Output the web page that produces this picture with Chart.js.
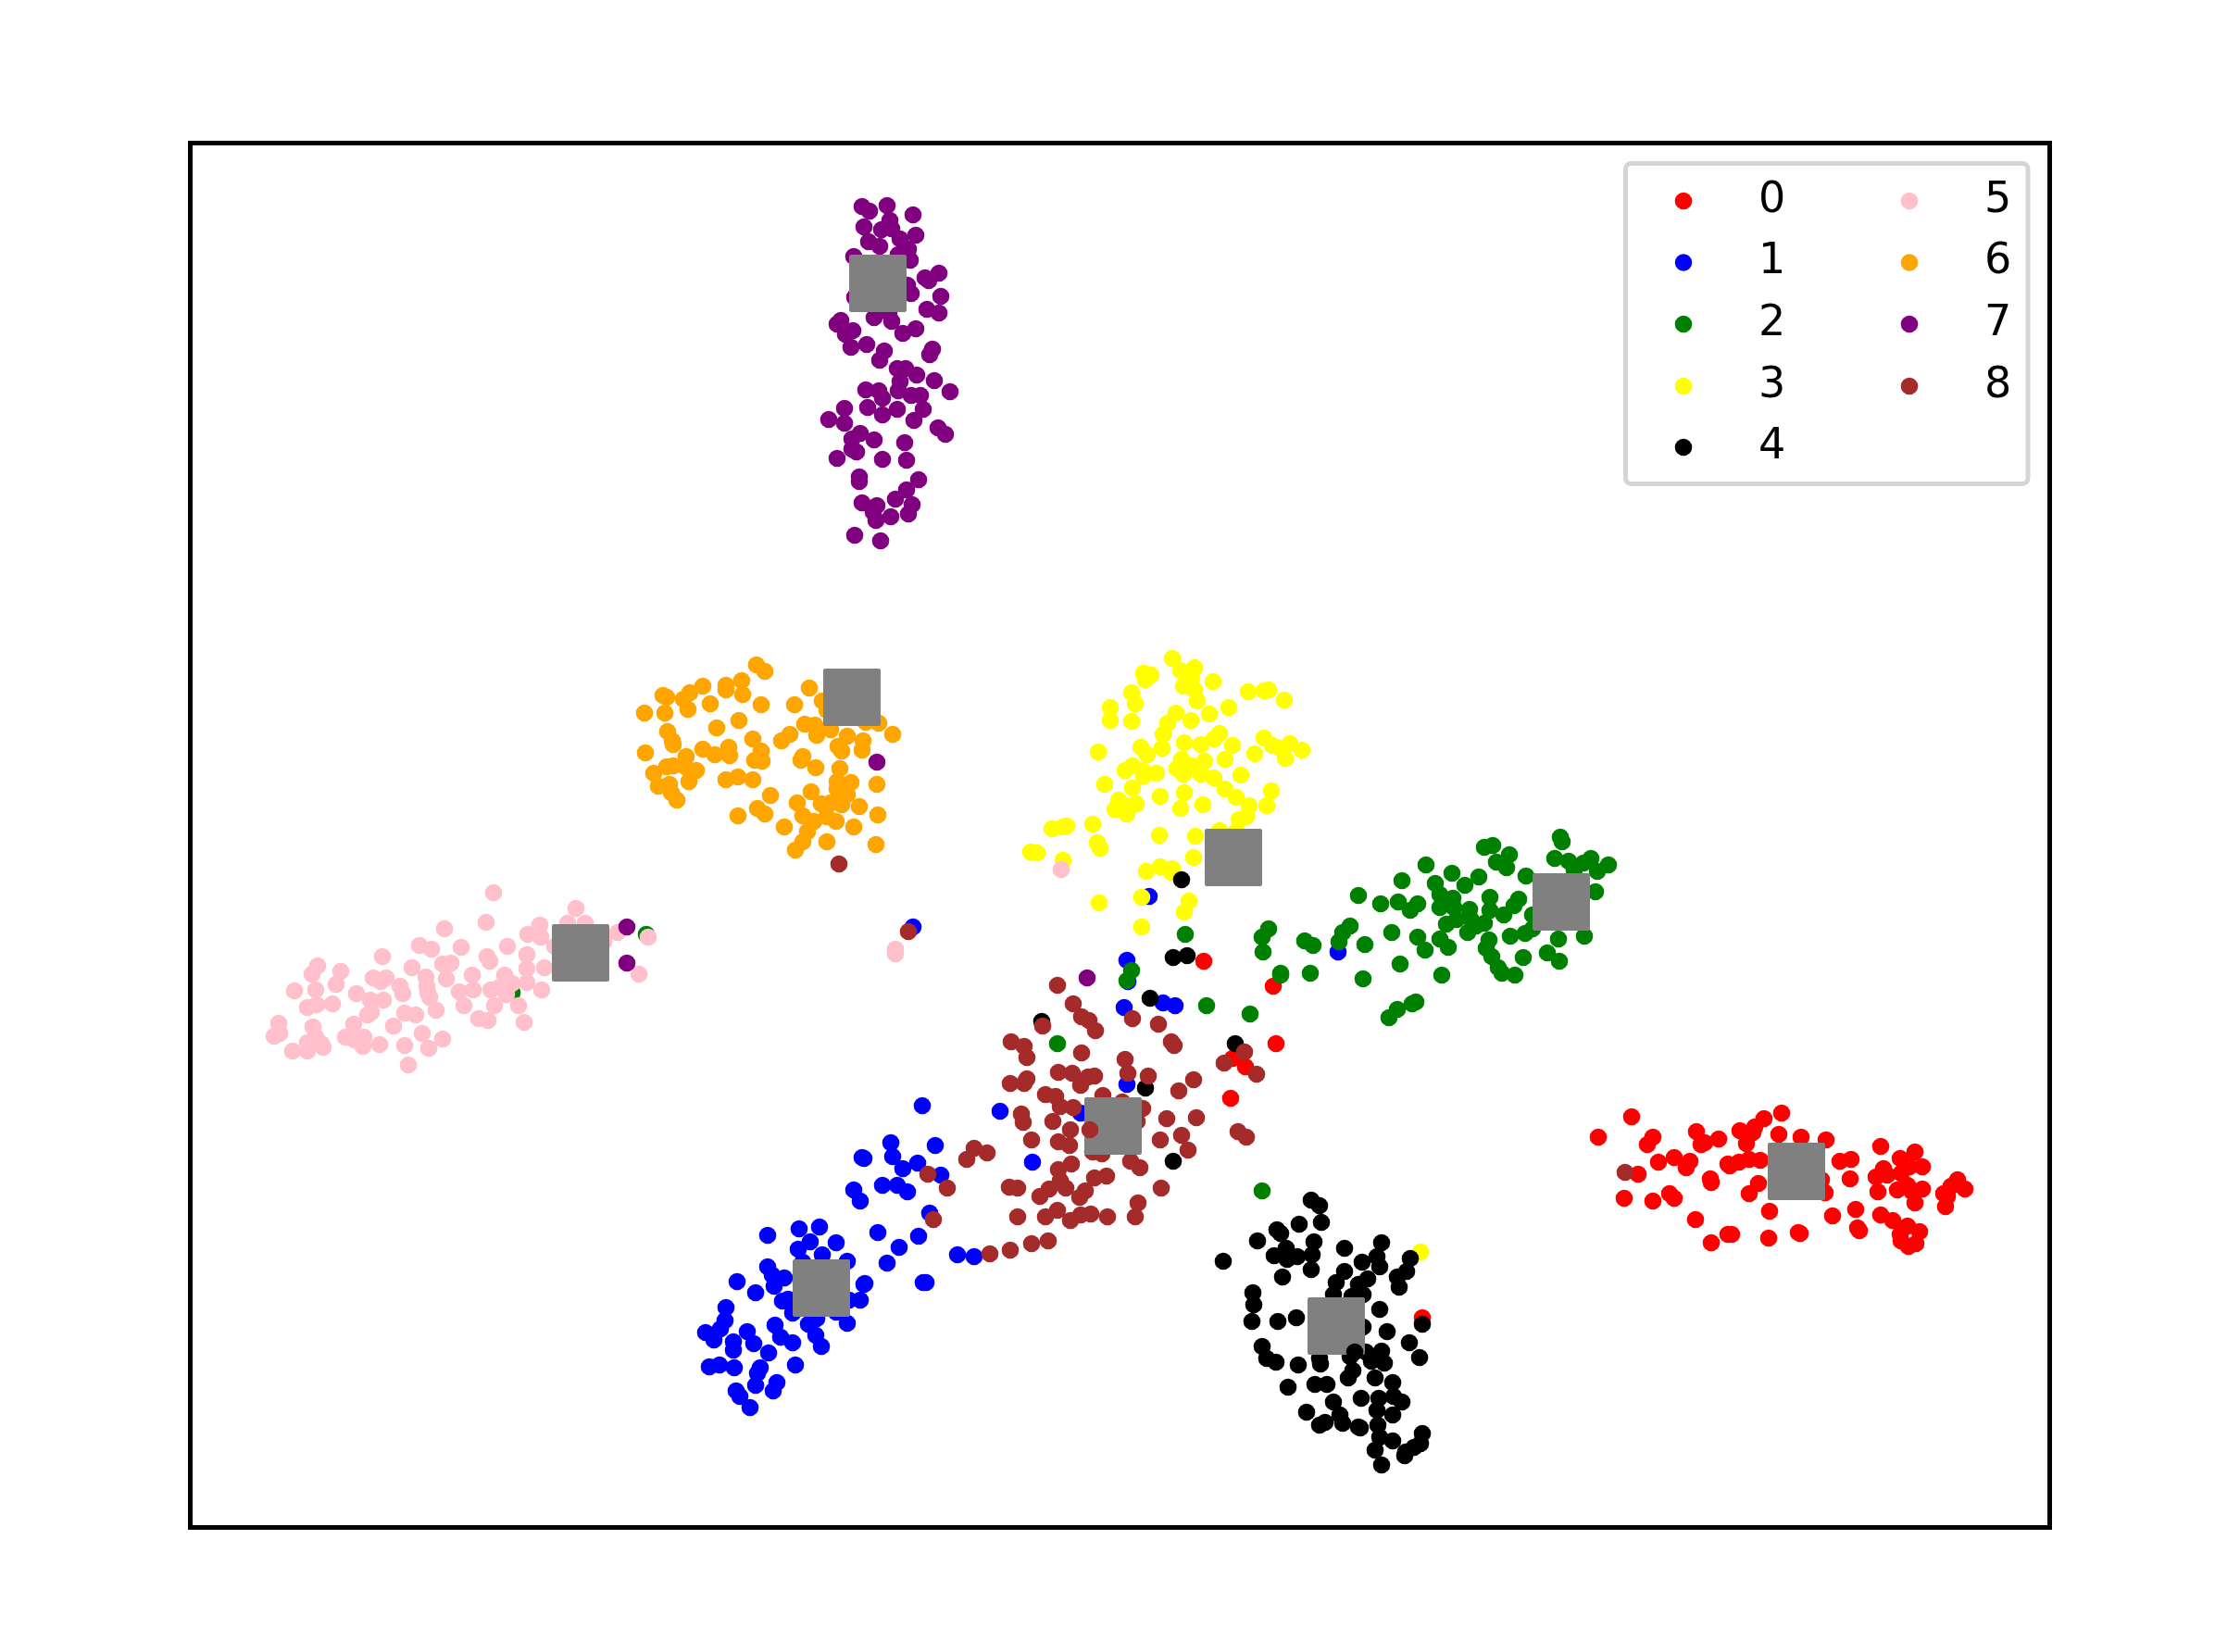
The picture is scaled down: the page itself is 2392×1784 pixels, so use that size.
<!DOCTYPE html>
<html>
<head>
<meta charset="utf-8">
<style>
  html, body { margin: 0; background: #fff; }
  canvas { display: block; }
</style>
<script src="https://cdn.jsdelivr.net/npm/chart.js@4/dist/chart.umd.min.js"></script>
</head>
<body>
<canvas id="myChart" width="2392" height="1784"></canvas>
<script>
// values, axes run in the same units as the reading
const class0 = [[1726,1228],[1762,1206],[1785,1228],[1779,1236],[1769,1268],[1791,1255],[1808,1250],[1825,1254],[1821,1261],[1754,1294],[1785,1297],[1803,1289],[1808,1294],[1832,1222],[1841,1234],[1837,1236],[1856,1230],[1847,1273],[1848,1277],[1831,1317],[1848,1342],[1866,1257],[1868,1259],[1878,1255],[1889,1252],[1901,1253],[1886,1235],[1879,1221],[1893,1223],[1895,1217],[1905,1208],[1924,1202],[1921,1225],[1945,1228],[1972,1231],[1899,1278],[1889,1289],[1911,1308],[1866,1333],[1870,1333],[1910,1337],[1942,1331],[1944,1332],[1967,1274],[1971,1288],[1979,1313],[1987,1254],[1999,1252],[1998,1273],[2004,1306],[2006,1326],[2008,1329],[2031,1238],[2034,1262],[2026,1271],[2038,1269],[2028,1287],[2052,1251],[2068,1244],[2076,1260],[2062,1260],[2053,1267],[2049,1285],[2060,1280],[2076,1284],[2065,1287],[2068,1299],[2031,1312],[2044,1318],[2060,1324],[2073,1330],[2052,1333],[2053,1340],[2069,1343],[2061,1346],[2114,1274],[2107,1281],[2122,1284],[2099,1289],[2103,1292],[2101,1303],[1300,1038],[1375,1065],[1378,1127],[1331,1143],[1345,1152],[1329,1186],[1536,1423]];
const class1 = [[996,1194],[962,1234],[1010,1237],[964,1249],[931,1250],[933,1251],[991,1256],[975,1262],[1016,1269],[953,1280],[969,1280],[980,1287],[922,1285],[929,1297],[1004,1310],[948,1331],[992,1335],[971,1347],[958,1364],[1034,1355],[1052,1357],[997,1385],[1000,1385],[863,1327],[885,1325],[875,1341],[903,1342],[862,1349],[829,1334],[888,1355],[915,1362],[867,1363],[829,1368],[834,1377],[847,1380],[836,1389],[796,1384],[816,1396],[934,1386],[933,1387],[929,1404],[917,1404],[845,1405],[851,1403],[784,1412],[783,1426],[778,1435],[762,1439],[771,1447],[856,1418],[903,1417],[882,1424],[873,1430],[915,1429],[837,1431],[843,1444],[856,1450],[881,1442],[887,1454],[807,1438],[814,1451],[792,1449],[792,1458],[830,1461],[766,1476],[777,1474],[793,1477],[859,1474],[821,1477],[818,1483],[839,1493],[835,1502],[816,1496],[795,1502],[799,1508],[810,1520],[1241,968],[1445,1028],[1217,1037],[1218,1060],[1256,1083],[1269,1086],[1214,1088],[1217,1171],[1167,1202],[1080,1200],[1115,1255],[986,1001]];
const class2 = [[1685,904],[1687,909],[1612,913],[1603,915],[1630,923],[1616,931],[1627,937],[1540,934],[1568,943],[1597,947],[1582,956],[1648,946],[1679,927],[1694,930],[1710,932],[1718,927],[1737,934],[1725,941],[1700,940],[1514,951],[1550,954],[1723,963],[1555,966],[1569,970],[1609,969],[1640,971],[1635,978],[1467,967],[1491,976],[1510,974],[1531,976],[1523,983],[1555,980],[1570,980],[1587,982],[1609,983],[1624,988],[1588,992],[1573,993],[1562,998],[1603,997],[1655,988],[1655,1003],[1594,1000],[1585,1007],[1647,1008],[1631,1011],[1683,1014],[1711,1011],[1608,1015],[1605,1024],[1555,1014],[1564,1023],[1531,1012],[1539,1026],[1503,1007],[1474,1020],[1458,1000],[1450,1007],[1446,1017],[1409,1016],[1418,1021],[1370,1003],[1363,1012],[1364,1028],[1611,1033],[1618,1045],[1622,1051],[1636,1053],[1645,1034],[1671,1029],[1684,1038],[1512,1041],[1557,1053],[1383,1051],[1383,1053],[1415,1051],[1472,1057],[1529,1082],[1525,1084],[1509,1090],[1500,1099],[1350,1095],[1280,1009],[1222,1048],[1217,1059],[1142,1127],[1303,1086],[1363,1286],[698,1009],[553,1072]];
const class3 = [[1266,711],[1275,724],[1290,721],[1235,727],[1243,729],[1237,734],[1287,732],[1310,736],[1278,741],[1290,745],[1293,757],[1348,747],[1365,746],[1370,745],[1387,756],[1222,748],[1226,760],[1199,764],[1199,778],[1222,779],[1327,764],[1306,771],[1270,770],[1286,778],[1261,781],[1256,793],[1317,792],[1311,798],[1279,802],[1297,804],[1255,808],[1232,807],[1239,815],[1186,812],[1365,797],[1374,805],[1383,808],[1393,803],[1406,810],[1388,819],[1355,814],[1331,805],[1323,820],[1276,820],[1301,822],[1287,827],[1271,830],[1278,836],[1297,836],[1311,840],[1223,827],[1215,832],[1234,832],[1235,838],[1249,835],[1340,837],[1193,847],[1323,852],[1223,851],[1279,856],[1373,854],[1335,861],[1253,860],[1208,864],[1227,868],[1218,870],[1204,874],[1217,879],[1275,873],[1299,869],[1349,870],[1368,870],[1346,882],[1338,885],[1180,890],[1152,892],[1148,893],[1136,895],[1317,897],[1335,898],[1252,902],[1291,903],[1185,910],[1188,916],[1113,920],[1120,921],[1289,926],[1148,929],[1253,936],[1266,938],[1265,942],[1238,941],[1284,973],[1279,985],[1233,969],[1187,975],[1233,1001],[1534,1352]];
const class4 = [[1416,1296],[1425,1302],[1427,1320],[1403,1322],[1379,1328],[1383,1332],[1358,1340],[1419,1341],[1389,1348],[1376,1356],[1390,1360],[1401,1357],[1417,1355],[1321,1362],[1452,1348],[1492,1342],[1487,1357],[1471,1363],[1490,1368],[1523,1359],[1519,1373],[1509,1379],[1511,1390],[1416,1371],[1385,1379],[1452,1373],[1443,1385],[1477,1381],[1467,1387],[1440,1398],[1460,1400],[1472,1398],[1353,1396],[1354,1409],[1490,1414],[1352,1427],[1380,1427],[1400,1423],[1536,1430],[1472,1433],[1498,1438],[1522,1450],[1363,1454],[1368,1467],[1378,1471],[1533,1466],[1492,1459],[1475,1460],[1458,1465],[1481,1470],[1495,1472],[1402,1474],[1426,1473],[1425,1467],[1461,1480],[1456,1488],[1485,1488],[1504,1493],[1391,1498],[1420,1495],[1433,1495],[1470,1510],[1489,1510],[1505,1508],[1514,1514],[1440,1514],[1487,1523],[1504,1528],[1411,1525],[1447,1528],[1425,1539],[1431,1536],[1450,1537],[1467,1541],[1469,1542],[1488,1539],[1490,1552],[1504,1556],[1536,1548],[1534,1559],[1527,1563],[1518,1568],[1517,1572],[1485,1566],[1492,1582],[1276,950],[1267,1034],[1282,1032],[1242,1078],[1125,1103],[1334,1127],[1237,1175],[1267,1254]];
const class5 = [[533,964],[622,981],[613,997],[632,997],[583,999],[525,996],[480,1003],[570,1009],[584,1012],[667,1007],[700,1012],[599,1022],[652,1017],[548,1022],[453,1021],[466,1025],[498,1023],[569,1031],[526,1033],[529,1038],[413,1033],[343,1043],[368,1049],[337,1052],[445,1045],[478,1041],[487,1040],[569,1046],[588,1045],[690,1052],[510,1053],[545,1053],[403,1056],[417,1056],[460,1055],[482,1057],[411,1060],[363,1063],[553,1062],[569,1061],[432,1065],[461,1065],[318,1070],[341,1069],[385,1073],[435,1073],[462,1072],[496,1071],[511,1069],[530,1069],[540,1066],[547,1065],[585,1069],[547,1074],[464,1077],[400,1080],[414,1080],[359,1084],[342,1085],[332,1088],[501,1086],[534,1086],[560,1086],[471,1091],[401,1093],[397,1096],[437,1094],[449,1096],[517,1100],[527,1102],[301,1105],[566,1104],[382,1106],[425,1108],[338,1109],[302,1116],[296,1119],[456,1116],[341,1120],[373,1120],[383,1123],[393,1120],[478,1122],[332,1126],[349,1131],[347,1127],[392,1130],[410,1128],[437,1129],[463,1132],[316,1135],[332,1135],[441,1150],[1146,939],[967,1025],[967,1030]];
const class6 = [[817,718],[826,725],[874,743],[801,735],[784,740],[784,745],[802,750],[759,741],[745,748],[738,755],[716,751],[720,753],[822,761],[767,760],[743,766],[696,770],[718,770],[858,761],[888,757],[893,767],[798,778],[774,786],[721,790],[726,800],[727,804],[813,798],[869,782],[880,783],[897,788],[882,794],[853,793],[844,800],[935,780],[949,781],[964,793],[915,795],[932,800],[905,806],[909,811],[931,810],[759,809],[772,815],[787,807],[788,816],[822,811],[697,813],[741,817],[815,821],[823,822],[867,817],[865,821],[881,829],[720,828],[727,827],[706,835],[740,828],[752,832],[744,844],[797,839],[784,842],[813,842],[907,830],[904,844],[919,845],[904,852],[915,858],[876,855],[947,847],[711,849],[723,847],[725,856],[731,864],[832,859],[861,867],[887,868],[897,867],[909,869],[928,871],[818,873],[826,879],[797,881],[867,881],[879,887],[893,882],[903,887],[948,880],[847,893],[922,893],[872,898],[867,909],[893,909],[946,912],[859,918]];
const class7 = [[931,223],[939,228],[958,222],[986,232],[961,238],[933,245],[952,248],[963,247],[989,254],[938,261],[950,266],[972,258],[981,269],[922,277],[970,275],[983,281],[999,300],[1003,303],[1014,295],[980,308],[984,317],[1016,320],[923,321],[1001,334],[1014,338],[944,343],[960,338],[963,347],[989,355],[975,360],[908,346],[904,350],[921,357],[913,361],[919,375],[936,372],[955,379],[950,389],[1007,377],[1004,383],[969,398],[978,398],[990,405],[972,412],[1009,411],[1026,423],[935,421],[949,422],[953,430],[970,422],[984,427],[994,427],[937,440],[953,448],[969,442],[997,442],[987,454],[912,441],[895,453],[912,457],[1013,462],[1021,469],[929,468],[920,474],[944,475],[920,485],[925,488],[977,478],[904,495],[953,496],[979,497],[928,515],[928,520],[992,518],[979,529],[967,539],[931,543],[947,546],[985,545],[981,555],[943,553],[962,558],[946,562],[923,578],[951,584],[947,823],[1174,1056],[677,1001],[677,1040]];
const class8 = [[1142,1064],[1159,1084],[1168,1098],[1176,1102],[1183,1113],[1126,1108],[1223,1100],[1251,1106],[1265,1125],[1268,1129],[1092,1125],[1106,1130],[1109,1142],[1168,1137],[1215,1144],[1218,1159],[1240,1162],[1143,1158],[1158,1159],[1182,1162],[1175,1163],[1167,1172],[1091,1170],[1106,1170],[1109,1165],[1289,1166],[1273,1178],[1191,1183],[1212,1190],[1129,1182],[1140,1184],[1145,1195],[1159,1196],[1234,1197],[1228,1211],[1103,1203],[1105,1212],[1137,1211],[1260,1208],[1292,1207],[1156,1220],[1114,1231],[1143,1233],[1155,1237],[1253,1231],[1276,1226],[1283,1242],[1180,1244],[1190,1246],[1157,1257],[1143,1263],[1221,1254],[1231,1261],[1195,1270],[1182,1272],[1145,1275],[1151,1283],[1133,1284],[1123,1292],[1090,1282],[1099,1283],[1254,1283],[1172,1286],[1166,1293],[1229,1299],[1142,1307],[1129,1314],[1099,1314],[1156,1318],[1167,1312],[1178,1311],[1196,1314],[1226,1314],[1114,1343],[1132,1340],[1052,1240],[1066,1245],[1044,1252],[1337,1222],[1346,1228],[1322,1148],[1344,1136],[1357,1160],[1002,1268],[1023,1283],[1008,1317],[1069,1354],[1091,1350],[981,1006],[906,933],[1755,1266]];
// these two sit on top of the grey squares
const class4Top = [[1463,1460]];
const class8Top = [[1177,1220]];
const centers = [[1940,1265],[887,1391],[1686,974],[1332,926],[1443,1432],[627,1029],[920,753],[948,306],[1202,1216]];

const classes = [class0, class1, class2, class3, class4, class5, class6, class7, class8];
const labels = ['0', '1', '2', '3', '4', '5', '6', '7', '8'];
const colors = ['red', 'blue', 'green', 'yellow', 'black', 'pink', 'orange', 'purple', 'brown'];

const toPoints = rows => rows.map(p => ({ x: p[0], y: p[1] }));

// Chart.js paints low order last, so later classes get lower order
const datasets = classes.map((rows, i) => ({
  label: labels[i],
  data: toPoints(rows),
  backgroundColor: colors[i],
  pointRadius: 9.3,
  pointBorderWidth: 0,
  order: 20 - i
}));
datasets.push({
  label: 'centers',
  data: toPoints(centers),
  pointStyle: 'rect',
  pointRadius: 41,
  backgroundColor: 'gray',
  borderColor: 'gray',
  pointBorderWidth: 4,
  order: 5
});
datasets.push({ label: '4 top', data: toPoints(class4Top), backgroundColor: 'black', pointRadius: 9.3, pointBorderWidth: 0, order: 2 });
datasets.push({ label: '8 top', data: toPoints(class8Top), backgroundColor: 'brown', pointRadius: 9.3, pointBorderWidth: 0, order: 1 });

// round corners on the squares
const roundJoin = {
  id: 'roundJoin',
  beforeDatasetsDraw(chart) {
    chart.ctx.lineJoin = 'round';
  }
};

// axes frame plus a two column legend filled down the columns
const frameAndLegend = {
  id: 'frameAndLegend',
  afterDraw(chart) {
    const ctx = chart.ctx;
    const area = chart.chartArea;
    ctx.save();
    ctx.lineJoin = 'miter';
    ctx.strokeStyle = '#000';
    ctx.lineWidth = 5;
    ctx.strokeRect(area.left, area.top, area.right - area.left, area.bottom - area.top);

    ctx.lineJoin = 'round';
    ctx.strokeStyle = '#d5d5d5';
    ctx.fillStyle = '#fff';
    ctx.lineWidth = 5;
    ctx.beginPath();
    ctx.roundRect(1755.5, 176.5, 434.5, 346, 6);
    ctx.fill();
    ctx.stroke();

    const rowY = [217, 283.5, 350, 417, 483];
    ctx.font = '46px "DejaVu Sans"';
    ctx.textBaseline = 'alphabetic';
    ctx.textAlign = 'left';
    labels.forEach((label, i) => {
      const second = i >= 5;
      const y = rowY[second ? i - 5 : i];
      ctx.fillStyle = colors[i];
      ctx.beginPath();
      ctx.arc(second ? 2062 : 1818, y, 9.3, 0, Math.PI * 2);
      ctx.fill();
      ctx.fillStyle = '#000';
      ctx.fillText(label, second ? 2143 : 1899, y + 11.5);
    });
    ctx.restore();
  }
};

new Chart(document.getElementById('myChart').getContext('2d'), {
  type: 'scatter',
  data: { datasets },
  plugins: [roundJoin, frameAndLegend],
  options: {
    responsive: false,
    animation: false,
    layout: { padding: { left: 205.5, top: 154.5, right: 2392 - 2213.5, bottom: 1784 - 1649.5 } },
    plugins: { legend: { display: false }, tooltip: { enabled: false } },
    scales: {
      x: { type: 'linear', display: false, min: 205.5, max: 2213.5 },
      y: { type: 'linear', display: false, min: 154.5, max: 1649.5, reverse: true }
    }
  }
});
</script>
</body>
</html>
